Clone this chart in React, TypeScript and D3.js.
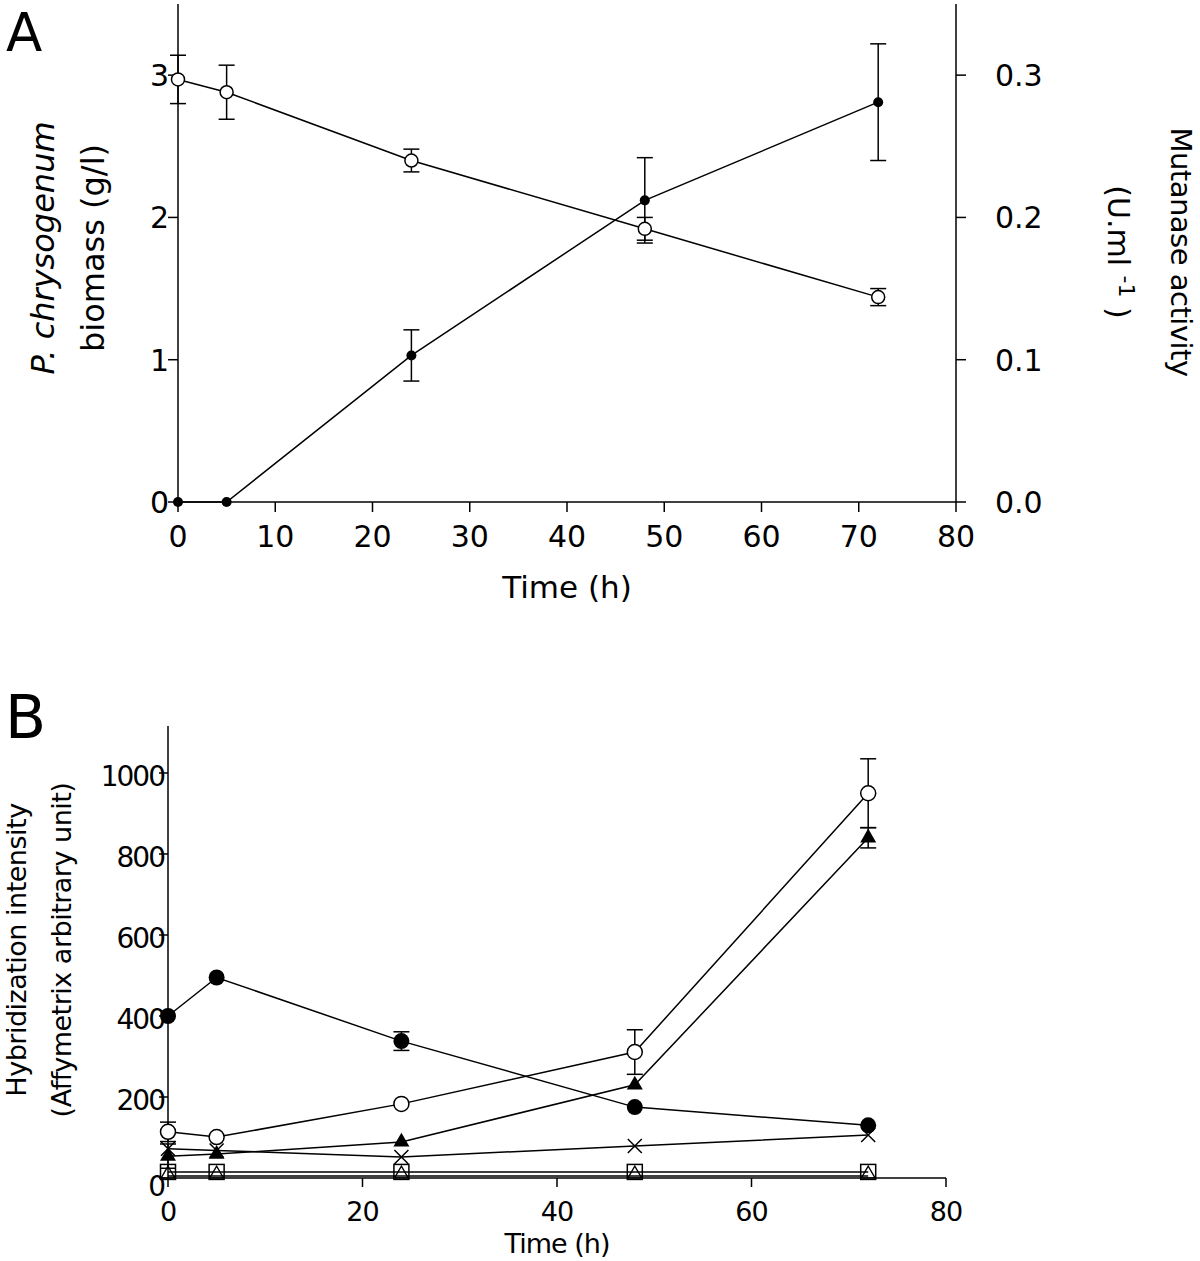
import { useEffect, useRef } from 'react';
import * as d3 from 'd3';

// Panel A: biomass (left axis) and mutanase activity (right axis)
const timesA = [0, 5, 24, 48, 72];
const biomass = [2.97, 2.88, 2.4, 1.92, 1.44];
const biomassErr = [0.17, 0.19, 0.08, 0.08, 0.06];
const mutanase = [0, 0, 0.103, 0.212, 0.281];
const mutanaseErr = [0, 0, 0.018, 0.03, 0.041];

// Panel B: hybridization intensities
const timesB = [0, 5, 24, 48, 72];
const geneFilledCircle = [400, 495, 338, 175, 130];
const geneFilledCircleErr = [0, 0, 23, 0, 0];
const geneOpenCircle = [114, 101, 183, 311, 950];
const geneOpenCircleErr = [24, 0, 0, 55, 85];
const geneFilledTriangle = [54, 59, 89, 230, 840];
const geneFilledTriangleErr = [30, 0, 0, 0, 25];
const geneCross = [72, 68, 52, 79, 106];
const geneOpenSquare = [15, 15, 15, 15, 15];
const geneOpenTriangle = [5, 5, 5, 5, 5];

const ticksAx = [0, 10, 20, 30, 40, 50, 60, 70, 80];
const ticksAy = [0, 1, 2, 3];
const ticksAy2 = [0, 0.1, 0.2, 0.3];
const ticksBx = [0, 20, 40, 60, 80];
const ticksBy = [0, 200, 400, 600, 800, 1000];

const FONT = '"DejaVu Sans", Verdana, sans-serif';

type G = d3.Selection<SVGGElement, unknown, null, undefined>;

function drawLine(g: G, xs: number[], ys: number[], x: d3.ScaleLinear<number, number>, y: d3.ScaleLinear<number, number>) {
  const line = d3.line<number>().x((_, i) => x(xs[i])).y((d) => y(d));
  g.append('path').attr('d', line(ys)).attr('fill', 'none').attr('stroke', '#000').attr('stroke-width', 1.5);
}

function drawErr(g: G, xs: number[], ys: number[], es: number[], x: d3.ScaleLinear<number, number>, y: d3.ScaleLinear<number, number>, cap: number) {
  ys.forEach((v, i) => {
    const e = es[i];
    if (!e) return;
    const cx = x(xs[i]);
    g.append('line').attr('x1', cx).attr('x2', cx).attr('y1', y(v - e)).attr('y2', y(v + e)).attr('stroke', '#000').attr('stroke-width', 1.5);
    [v - e, v + e].forEach((yy) => {
      g.append('line').attr('x1', cx - cap).attr('x2', cx + cap).attr('y1', y(yy)).attr('y2', y(yy)).attr('stroke', '#000').attr('stroke-width', 1.5);
    });
  });
}

export default function App() {
  const ref = useRef<SVGSVGElement | null>(null);

  useEffect(() => {
    const svg = d3.select(ref.current);
    svg.selectAll('*').remove();
    const root = svg.append('g').attr('font-family', FONT).attr('fill', '#000');

    // ---------- Panel A ----------
    const xA = d3.scaleLinear().domain([0, 80]).range([178, 956]);
    const yA = d3.scaleLinear().domain([0, 3.5]).range([502, 4]);
    const yA2 = d3.scaleLinear().domain([0, 0.35]).range([502, 4]);
    const a = root.append('g');

    const axA = a.append('g').attr('stroke', '#000').attr('stroke-width', 1.5);
    axA.append('line').attr('x1', xA(0)).attr('x2', xA(80)).attr('y1', yA(0)).attr('y2', yA(0));
    axA.append('line').attr('x1', xA(0)).attr('x2', xA(0)).attr('y1', yA(3.5)).attr('y2', yA(0));
    axA.append('line').attr('x1', xA(80)).attr('x2', xA(80)).attr('y1', yA2(0.35)).attr('y2', yA2(0));
    ticksAx.forEach((t) => {
      axA.append('line').attr('x1', xA(t)).attr('x2', xA(t)).attr('y1', yA(0)).attr('y2', yA(0) + 10);
      a.append('text').attr('x', xA(t)).attr('y', 547).attr('text-anchor', 'middle').attr('font-size', 30).text(String(t));
    });
    ticksAy.forEach((t) => {
      axA.append('line').attr('x1', xA(0) - 10).attr('x2', xA(0)).attr('y1', yA(t)).attr('y2', yA(t));
      a.append('text').attr('x', xA(0) - 9).attr('y', yA(t)).attr('dy', '0.36em').attr('text-anchor', 'end').attr('font-size', 30).text(String(t));
    });
    ticksAy2.forEach((t) => {
      axA.append('line').attr('x1', xA(80)).attr('x2', xA(80) + 10).attr('y1', yA2(t)).attr('y2', yA2(t));
      a.append('text').attr('x', xA(80) + 39).attr('y', yA2(t)).attr('dy', '0.36em').attr('text-anchor', 'start').attr('font-size', 30).text(t.toFixed(1));
    });

    drawLine(a, timesA, biomass, xA, yA);
    drawLine(a, timesA, mutanase, xA, yA2);
    drawErr(a, timesA, biomass, biomassErr, xA, yA, 8);
    drawErr(a, timesA, mutanase, mutanaseErr, xA, yA2, 8);
    biomass.forEach((v, i) => {
      a.append('circle').attr('cx', xA(timesA[i])).attr('cy', yA(v)).attr('r', 6.5)
        .attr('fill', '#fff').attr('stroke', '#000').attr('stroke-width', 1.5);
    });
    mutanase.forEach((v, i) => {
      a.append('circle').attr('cx', xA(timesA[i])).attr('cy', yA2(v)).attr('r', 5).attr('fill', '#000');
    });

    a.append('text').attr('x', 567).attr('y', 598).attr('text-anchor', 'middle').attr('font-size', 31).text('Time (h)');
    a.append('text').attr('transform', 'translate(54,248) rotate(-90)').attr('text-anchor', 'middle')
      .attr('font-size', 32).attr('font-style', 'italic').text('P. chrysogenum');
    a.append('text').attr('transform', 'translate(104,248) rotate(-90)').attr('text-anchor', 'middle')
      .attr('font-size', 32).text('biomass (g/l)');
    a.append('text').attr('transform', 'translate(1171,252) rotate(90)').attr('text-anchor', 'middle')
      .attr('font-size', 29).attr('letter-spacing', -0.5).text('Mutanase activity');
    const unit = a.append('text').attr('transform', 'translate(1108,252) rotate(90)').attr('text-anchor', 'middle').attr('font-size', 30);
    unit.append('tspan').text('(U.ml ');
    unit.append('tspan').attr('dy', -11).attr('font-size', 22).text('-1');
    unit.append('tspan').attr('dy', 11).text(' )');
    a.append('text').attr('x', 6).attr('y', 51).attr('font-size', 53).text('A');

    // ---------- Panel B ----------
    const xB = d3.scaleLinear().domain([0, 80]).range([168, 946]);
    const yB = d3.scaleLinear().domain([0, 1116]).range([1178, 726]);
    const b = root.append('g');

    const axB = b.append('g').attr('stroke', '#000').attr('stroke-width', 1.5);
    axB.append('line').attr('x1', xB(0)).attr('x2', xB(80)).attr('y1', yB(0)).attr('y2', yB(0));
    axB.append('line').attr('x1', xB(0)).attr('x2', xB(0)).attr('y1', yB(1116)).attr('y2', yB(0));
    ticksBx.forEach((t) => {
      axB.append('line').attr('x1', xB(t)).attr('x2', xB(t)).attr('y1', yB(0)).attr('y2', yB(0) + 9);
      b.append('text').attr('x', xB(t)).attr('y', 1221).attr('text-anchor', 'middle').attr('font-size', 27)
        .attr('letter-spacing', -1).text(String(t));
    });
    ticksBy.forEach((t) => {
      axB.append('line').attr('x1', xB(0) - 9).attr('x2', xB(0)).attr('y1', yB(t)).attr('y2', yB(t));
      b.append('text').attr('x', xB(0) - 4).attr('y', yB(t) + (t === 0 ? 8 : 3)).attr('dy', '0.36em').attr('text-anchor', 'end')
        .attr('font-size', 28).attr('letter-spacing', -2).text(String(t));
    });

    const seriesB = [geneOpenTriangle, geneOpenSquare, geneCross, geneFilledTriangle, geneOpenCircle, geneFilledCircle];
    seriesB.forEach((s) => drawLine(b, timesB, s, xB, yB));
    drawErr(b, timesB, geneFilledCircle, geneFilledCircleErr, xB, yB, 8);
    drawErr(b, timesB, geneOpenCircle, geneOpenCircleErr, xB, yB, 8);
    drawErr(b, timesB, geneFilledTriangle, geneFilledTriangleErr, xB, yB, 8);

    const tri = d3.symbol(d3.symbolTriangle, 110);
    const triSmall = d3.symbol(d3.symbolTriangle, 80);
    geneOpenSquare.forEach((v, i) => {
      b.append('rect').attr('x', xB(timesB[i]) - 7.5).attr('y', yB(v) - 7.5).attr('width', 15).attr('height', 15)
        .attr('fill', 'none').attr('stroke', '#000').attr('stroke-width', 1.5);
    });
    geneOpenTriangle.forEach((v, i) => {
      b.append('path').attr('d', triSmall()).attr('transform', `translate(${xB(timesB[i])},${yB(v) - 2})`)
        .attr('fill', 'none').attr('stroke', '#000').attr('stroke-width', 1.3);
    });
    geneCross.forEach((v, i) => {
      const cx = xB(timesB[i]);
      const cy = yB(v);
      b.append('path').attr('d', `M${cx - 7},${cy - 7}L${cx + 7},${cy + 7}M${cx - 7},${cy + 7}L${cx + 7},${cy - 7}`)
        .attr('stroke', '#000').attr('stroke-width', 1.5).attr('fill', 'none');
    });
    geneFilledTriangle.forEach((v, i) => {
      b.append('path').attr('d', tri()).attr('transform', `translate(${xB(timesB[i])},${yB(v)})`).attr('fill', '#000');
    });
    geneOpenCircle.forEach((v, i) => {
      b.append('circle').attr('cx', xB(timesB[i])).attr('cy', yB(v)).attr('r', 7.5)
        .attr('fill', '#fff').attr('stroke', '#000').attr('stroke-width', 1.5);
    });
    geneFilledCircle.forEach((v, i) => {
      b.append('circle').attr('cx', xB(timesB[i])).attr('cy', yB(v)).attr('r', 8).attr('fill', '#000');
    });

    b.append('text').attr('x', 557).attr('y', 1253).attr('text-anchor', 'middle').attr('font-size', 27)
      .attr('letter-spacing', -1).text('Time (h)');
    b.append('text').attr('transform', 'translate(26,950) rotate(-90)').attr('text-anchor', 'middle')
      .attr('font-size', 27).attr('letter-spacing', -0.5).text('Hybridization intensity');
    b.append('text').attr('transform', 'translate(71,950) rotate(-90)').attr('text-anchor', 'middle')
      .attr('font-size', 27).attr('letter-spacing', -0.5).text('(Affymetrix arbitrary unit)');
    b.append('text').attr('x', 5).attr('y', 738).attr('font-size', 60).text('B');
  }, []);

  return (
    <div style={{ position: 'absolute', left: 0, top: 0 }}>
      <svg ref={ref} width={1200} height={1261} style={{ display: 'block', background: '#fff' }} />
    </div>
  );
}
